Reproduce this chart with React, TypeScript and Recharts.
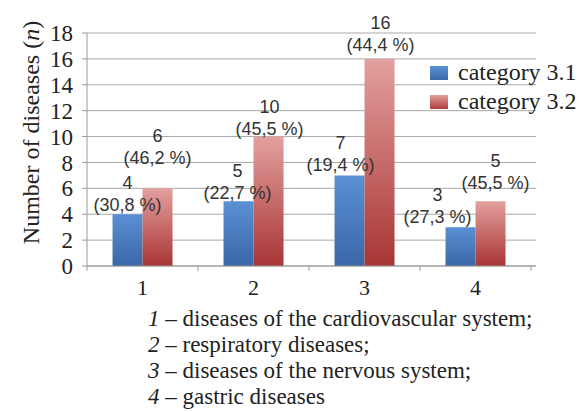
import React from 'react';
import { BarChart, Bar, XAxis, YAxis, CartesianGrid, Legend, LabelList } from 'recharts';

const categories = ['1', '2', '3', '4'];
const cat31 = [4, 5, 7, 3];
const cat32 = [6, 10, 16, 5];
const pct31 = ['30,8', '22,7', '19,4', '27,3'];
const pct32 = ['46,2', '45,5', '44,4', '45,5'];
const yTicks = [0, 2, 4, 6, 8, 10, 12, 14, 16, 18];
const seriesNames = ['category 3.1', 'category 3.2'];
const footnotes = [
  'diseases of the cardiovascular system;',
  'respiratory diseases;',
  'diseases of the nervous system;',
  'gastric diseases',
];

// label nudges (px) so the two-line labels sit where the original put them
const nudge31 = [
  { dx: 0, dy: 1 },
  { dx: -1, dy: 2 },
  { dx: -9, dy: 0 },
  { dx: -23, dy: 0 },
];
const nudge32 = [
  { dx: 0, dy: -20 },
  { dx: 1, dy: 2 },
  { dx: 1, dy: -4 },
  { dx: 5, dy: -8 },
];

const data = categories.map((c, i) => ({ name: c, a: cat31[i], b: cat32[i] }));

const SERIF = '"Liberation Serif", "Times New Roman", serif';
const SANS = '"Liberation Sans", Arial, sans-serif';

const makeLabel = (pcts: string[], nudge: { dx: number; dy: number }[]) => (props: any) => {
  const { x, y, width, value, index } = props;
  const n = nudge[index] || { dx: 0, dy: 0 };
  const cx = x + width / 2 + n.dx;
  const by = y - 4 + n.dy;
  return (
    <g fontFamily={SANS} fontSize={18} fill="#333" textAnchor="middle">
      <text x={cx} y={by - 22}>{value}</text>
      <text x={cx} y={by}>({pcts[index]} %)</text>
    </g>
  );
};

const XTick = (props: any) => {
  const { x, y, payload, index } = props;
  const off = payload?.offset;
  return (
    <g>
      {off !== undefined && (
        <line x1={x - off} y1={y} x2={x - off} y2={y + 5} stroke="#999" />
      )}
      {off !== undefined && index === categories.length - 1 && (
        <line x1={x + off} y1={y} x2={x + off} y2={y + 5} stroke="#999" />
      )}
      <text x={x} y={y + 29} textAnchor="middle" fontFamily={SERIF} fontSize={22} fill="#222">
        {payload.value}
      </text>
    </g>
  );
};

const LegendBox = () => (
  <div style={{ fontFamily: SERIF, fontSize: 24, color: '#222', lineHeight: '29px' }}>
    {seriesNames.map((n, i) => (
      <div key={n} style={{ display: 'flex', alignItems: 'center', whiteSpace: 'nowrap' }}>
        <svg width={18} height={14} style={{ marginRight: 10 }}>
          <defs>
            <linearGradient id={`lg${i}`} x1="0" y1="0" x2="0" y2="1">
              <stop offset="0%" stopColor={i === 0 ? '#5a90d3' : '#e3a09e'} />
              <stop offset="100%" stopColor={i === 0 ? '#3c69aa' : '#b03c3c'} />
            </linearGradient>
          </defs>
          <rect width={18} height={14} fill={`url(#lg${i})`} />
        </svg>
        <span>{n}</span>
      </div>
    ))}
  </div>
);

export default function App() {
  return (
    <div style={{ position: 'absolute', left: 0, top: 0, width: 579, height: 412, background: '#fff' }}>
      <BarChart
        width={579}
        height={300}
        data={data}
        margin={{ top: 33, right: 43, left: 0, bottom: 0 }}
        barCategoryGap="23%"
        barGap={0}
      >
        <defs>
          <linearGradient id="gBlue" x1="0" y1="0" x2="0" y2="1">
            <stop offset="0%" stopColor="#5a90d3" />
            <stop offset="100%" stopColor="#3a67a8" />
          </linearGradient>
          <linearGradient id="gRed" x1="0" y1="0" x2="0" y2="1">
            <stop offset="0%" stopColor="#e3a09e" />
            <stop offset="100%" stopColor="#a83535" />
          </linearGradient>
        </defs>
        <CartesianGrid vertical={false} stroke="#a8a8a8" />
        <XAxis
          dataKey="name"
          height={34}
          padding={{ left: 0, right: 5 }}
          stroke="#999"
          tickSize={0}
          tickMargin={0}
          tick={<XTick />}
        />
        <YAxis
          width={87}
          domain={[0, 18]}
          ticks={yTicks}
          interval={0}
          stroke="#999"
          tickSize={5}
          tickMargin={9}
          tick={{ fontFamily: SERIF, fontSize: 23, fill: '#222' }}
          label={{
            content: (p: any) => {
              const vb = p.viewBox;
              return (
                <text
                  x={vb.x + 31}
                  y={vb.y + vb.height / 2 - 17}
                  transform={`rotate(-90, ${vb.x + 31}, ${vb.y + vb.height / 2 - 17})`}
                  textAnchor="middle"
                  dominantBaseline="central"
                  fontFamily={SERIF}
                  fontSize={24}
                  fill="#222"
                >
                  Number of diseases (<tspan fontStyle="italic">n</tspan>)
                </text>
              );
            },
          }}
        />
        <Legend
          layout="vertical"
          align="center"
          verticalAlign="middle"
          content={<LegendBox />}
          wrapperStyle={{ position: 'absolute', left: 430, top: 58, width: 160, bottom: 'auto' }}
        />
        <Bar dataKey="a" name={seriesNames[0]} fill="url(#gBlue)" isAnimationActive={false}>
          <LabelList dataKey="a" content={makeLabel(pct31, nudge31)} />
        </Bar>
        <Bar dataKey="b" name={seriesNames[1]} fill="url(#gRed)" isAnimationActive={false}>
          <LabelList dataKey="b" content={makeLabel(pct32, nudge32)} />
        </Bar>
      </BarChart>
      <div
        style={{
          position: 'absolute',
          left: 148,
          top: 306,
          fontFamily: SERIF,
          fontSize: 23,
          lineHeight: '26px',
          color: '#222',
          whiteSpace: 'nowrap',
        }}
      >
        {footnotes.map((f, i) => (
          <div key={i}>
            <i>{i + 1}</i> – {f}
          </div>
        ))}
      </div>
    </div>
  );
}
